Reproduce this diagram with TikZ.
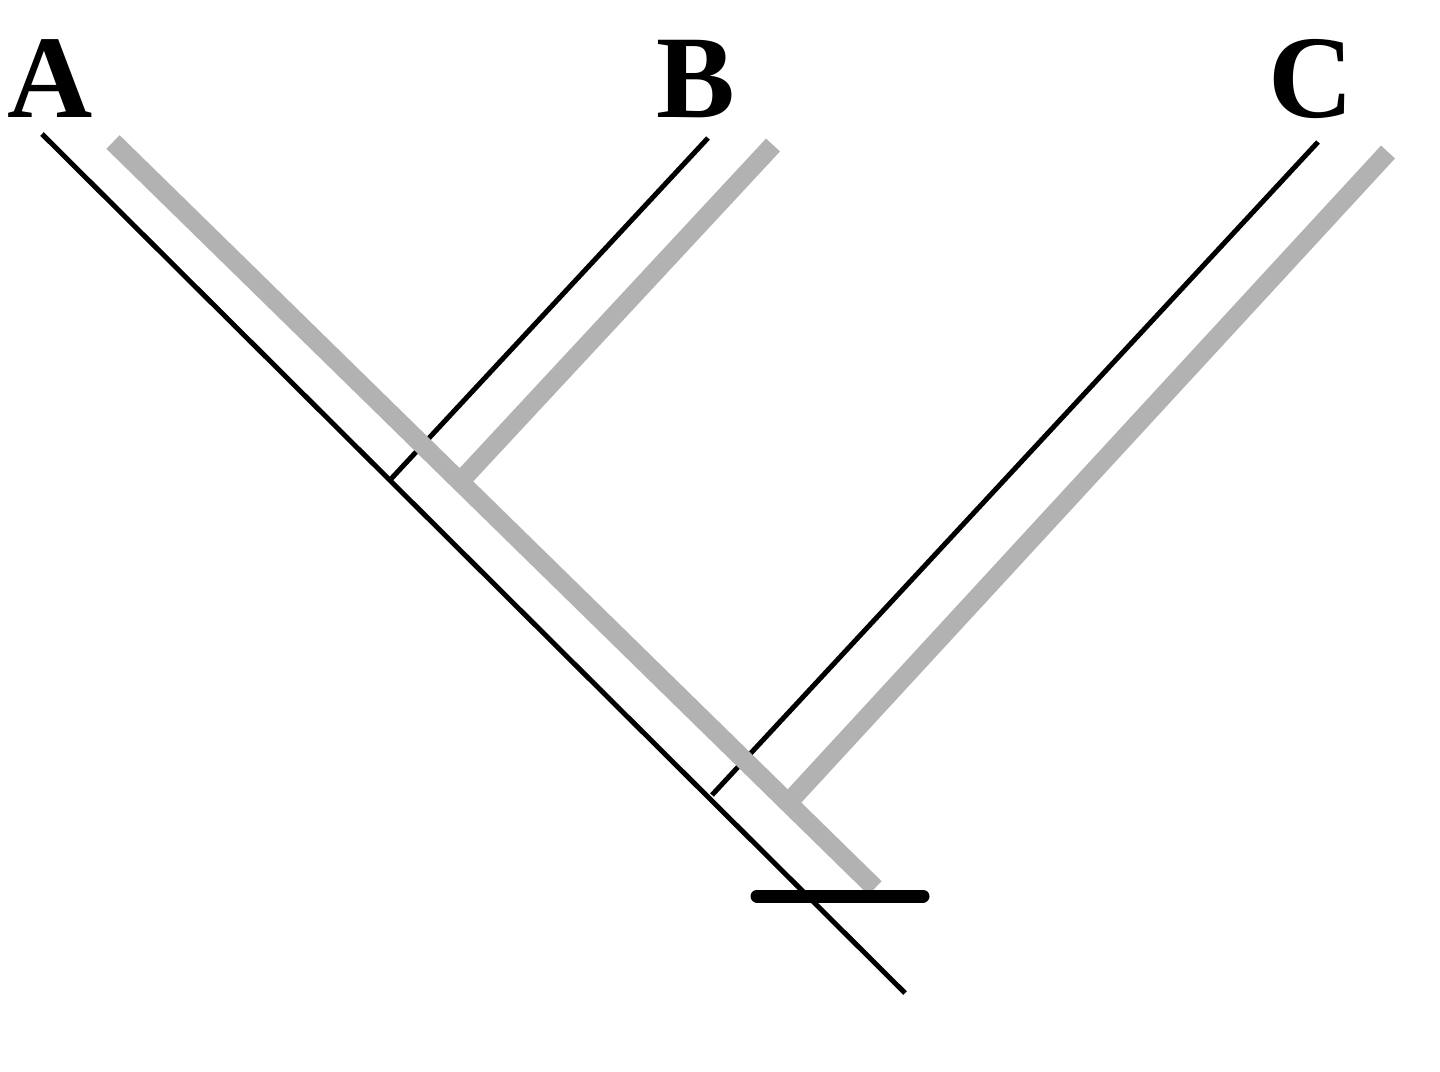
\documentclass[tikz,border=0pt]{standalone}
\usepackage{fontspec}
\setmainfont{Liberation Serif}
\begin{document}
\begin{tikzpicture}[x=1pt,y=-1pt,
  blackline/.style={draw=black,line width=5pt},
  grayline/.style={draw=black!30,line width=19pt},
  barline/.style={draw=black,line width=13pt,line cap=round},
  taxon/.style={font=\fontsize{118}{118}\selectfont\bfseries,anchor=base,inner sep=0pt}]
\useasboundingbox (0,0) rectangle (1440,1071);
% coordinates
\coordinate (bA1) at (42,134);
\coordinate (bA2) at (905,993);
\coordinate (bB1) at (708,138);
\coordinate (bB2) at (390,480);
\coordinate (bC1) at (1318,142);
\coordinate (bC2) at (712,795);
\coordinate (gA1) at (113,142);
\coordinate (gA2) at (875,888);
\coordinate (gB1) at (773,145);
\coordinate (gB2) at (456,486);
\coordinate (gC1) at (1388,152);
\coordinate (gC2) at (788,803);
\coordinate (bar1) at (757,896);
\coordinate (bar2) at (923,896);
% black lines
\draw[blackline] (bA1) -- (bA2);
\draw[blackline] (bB1) -- (bB2);
\draw[blackline] (bC1) -- (bC2);
% gray lines
\draw[grayline] (gA1) -- (gA2);
\draw[grayline] (gB1) -- (gB2);
\draw[grayline] (gC1) -- (gC2);
% bar
\draw[barline] (bar1) -- (bar2);
% labels
\node[taxon] (A) at (50,117) {A};
\node[taxon] (B) at (696,117) {B};
\node[taxon] (C) at (1311,117) {C};
\end{tikzpicture}
\end{document}
